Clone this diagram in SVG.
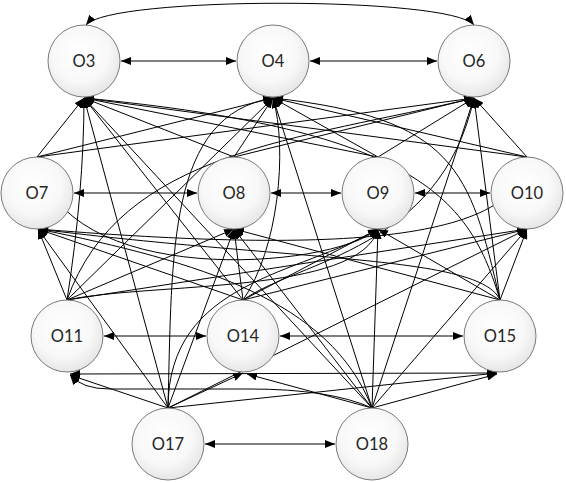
<svg xmlns="http://www.w3.org/2000/svg" width="566" height="483" viewBox="0 0 566 483">
<style>
.n circle{fill:url(#g);stroke:#7a7a7a;stroke-width:1}
.n text{font-family:Lato,"Open Sans","Liberation Sans",sans-serif;font-size:16.5px;fill:#262626;text-anchor:middle;dominant-baseline:central}
#connectors path{fill:none;stroke:#000;stroke-width:1;marker-end:url(#a)}
#connectors path.b{marker-start:url(#a)}
</style>
<defs>
<radialGradient id="g" cx="45%" cy="40%" r="60%">
<stop offset="0" stop-color="#ffffff"/>
<stop offset="0.65" stop-color="#f8f8f8"/>
<stop offset="1" stop-color="#e6e6e6"/>
</radialGradient>
<marker id="a" viewBox="0 0 10 8" refX="10" refY="4" markerWidth="10" markerHeight="8" markerUnits="userSpaceOnUse" orient="auto-start-reverse">
<path d="M0,0 L10,4 L0,8 z" fill="#000"/>
</marker>
</defs>
<rect width="566" height="483" fill="#fff"/>
<g id="connectors">
<path class="b" d="M86,25 C110,-4 450,-4 474,25"/>
<path class="b" d="M121,61 L236,61"/>
<path class="b" d="M310,61 L437,61"/>
<path class="b" d="M74,193 L197,193"/>
<path class="b" d="M271,193 L341,193"/>
<path class="b" d="M415,193 L490,193"/>
<path class="b" d="M104,336 L206,336"/>
<path class="b" d="M280,336 L463,336"/>
<path class="b" d="M205,444 L335,444"/>
<path class="b" d="M70,374 L497,373"/>
<path d="M37,157 L84,98"/>
<path d="M234,157 L84,98"/>
<path d="M378,157 L84,98"/>
<path d="M527,157 L84,98"/>
<path d="M67,300 C78,230 84,160 84,98"/>
<path d="M243,300 L84,98"/>
<path d="M168,408 L84,98"/>
<path d="M372,408 L84,98"/>
<path d="M500,300 C470,200 420,130 84,98"/>
<path d="M37,157 L273,98"/>
<path d="M234,157 L273,98"/>
<path d="M378,157 L273,98"/>
<path d="M527,157 L273,98"/>
<path d="M67,300 L273,98"/>
<path d="M372,408 L273,98"/>
<path d="M168,408 C172,250 168,115 273,98"/>
<path d="M500,300 C470,170 455,118 273,98"/>
<path d="M243,300 C278,250 288,150 273,98"/>
<path d="M37,157 L474,98"/>
<path d="M234,157 L474,98"/>
<path d="M378,157 L474,98"/>
<path d="M527,157 L474,98"/>
<path d="M67,300 C120,150 300,140 474,98"/>
<path d="M500,300 L474,98"/>
<path d="M372,408 L474,98"/>
<path d="M243,300 C300,260 440,250 474,98"/>
<path d="M67,300 L38,229"/>
<path d="M243,300 L38,229"/>
<path d="M500,300 C480,255 300,262 38,229"/>
<path d="M168,408 L38,229"/>
<path d="M527,157 C520,250 300,250 38,229"/>
<path d="M372,408 C330,300 200,262 38,229"/>
<path d="M67,300 L234,229"/>
<path d="M243,300 L234,229"/>
<path d="M500,300 L234,229"/>
<path d="M168,408 L234,229"/>
<path d="M372,408 L234,229"/>
<path d="M67,300 C150,282 360,295 378,229"/>
<path d="M243,300 L378,229"/>
<path d="M500,300 L378,229"/>
<path d="M168,408 C168,280 300,275 378,229"/>
<path d="M372,408 L378,229"/>
<path d="M37,157 C60,290 330,270 378,229"/>
<path d="M67,300 L527,229"/>
<path d="M243,300 L527,229"/>
<path d="M500,300 L527,229"/>
<path d="M168,408 L527,229"/>
<path d="M372,408 L527,229"/>
<path d="M168,408 L70,375"/>
<path d="M372,408 Q330,389 250,389 L110,389 Q82,389 70,375"/>
<path d="M168,408 L243,373"/>
<path d="M372,408 L247,374"/>
<path d="M168,408 L497,373"/>
<path d="M372,408 L497,374"/>
</g>
<g id="O3" class="n"><circle cx="84" cy="61" r="36"/><text x="84" y="61">O3</text></g>
<g id="O4" class="n"><circle cx="273" cy="61" r="36"/><text x="273" y="61">O4</text></g>
<g id="O6" class="n"><circle cx="474" cy="61" r="36"/><text x="474" y="61">O6</text></g>
<g id="O7" class="n"><circle cx="37" cy="193" r="36"/><text x="37" y="193">O7</text></g>
<g id="O8" class="n"><circle cx="234" cy="193" r="36"/><text x="234" y="193">O8</text></g>
<g id="O9" class="n"><circle cx="378" cy="193" r="36"/><text x="378" y="193">O9</text></g>
<g id="O10" class="n"><circle cx="527" cy="193" r="36"/><text x="527" y="193">O10</text></g>
<g id="O11" class="n"><circle cx="67" cy="336" r="36"/><text x="67" y="336">O11</text></g>
<g id="O14" class="n"><circle cx="243" cy="336" r="36"/><text x="243" y="336">O14</text></g>
<g id="O15" class="n"><circle cx="500" cy="336" r="36"/><text x="500" y="336">O15</text></g>
<g id="O17" class="n"><circle cx="168" cy="444" r="36"/><text x="168" y="444">O17</text></g>
<g id="O18" class="n"><circle cx="372" cy="444" r="36"/><text x="372" y="444">O18</text></g>
</svg>
